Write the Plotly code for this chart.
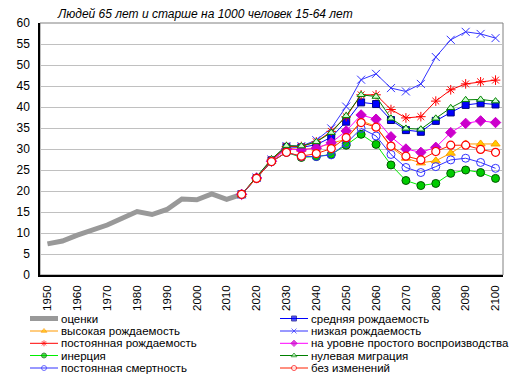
import plotly.graph_objects as go

# ---- data ----
est_years = list(range(1950, 2020, 5))
estimates = [7.4, 8.1, 9.5, 10.7, 11.9, 13.5, 15.1, 14.4, 15.6, 18.1, 17.9, 19.3, 18.0, 19.2]

proj_years = list(range(2015, 2105, 5))
medium       = [19.2, 23.1, 27.3, 30.5, 30.4, 31.0, 32.8, 36.5, 41.1, 40.7, 36.9, 34.5, 34.1, 36.7, 38.7, 40.5, 40.9, 40.6]
high         = [19.2, 23.1, 27.1, 30.2, 29.9, 30.2, 31.4, 32.3, 36.7, 35.4, 30.4, 27.8, 26.7, 27.2, 29.0, 31.2, 31.2, 31.2]
low          = [19.2, 23.2, 27.5, 30.7, 30.7, 32.1, 34.9, 40.1, 46.5, 47.9, 44.5, 43.7, 45.5, 51.9, 56.0, 57.9, 57.4, 56.4]
const_fert   = [19.2, 23.2, 27.4, 30.6, 30.6, 31.7, 34.2, 37.7, 42.9, 42.9, 39.4, 37.4, 37.7, 41.4, 44.1, 45.5, 46.0, 46.4]
replacement  = [19.2, 23.1, 27.1, 30.0, 29.8, 30.2, 31.5, 34.3, 38.1, 37.1, 32.9, 30.0, 29.2, 30.4, 33.9, 36.1, 36.7, 36.3]
inertia      = [19.2, 23.0, 27.0, 29.2, 28.0, 28.2, 28.7, 30.9, 33.5, 31.1, 26.2, 22.5, 21.3, 21.8, 24.2, 25.0, 24.4, 23.0]
zero_migr    = [19.2, 23.3, 27.6, 30.8, 30.7, 31.7, 33.9, 37.9, 42.9, 42.5, 37.3, 34.9, 34.7, 37.3, 39.8, 41.7, 41.8, 41.4]
const_mort   = [19.2, 23.0, 27.0, 29.2, 28.2, 28.2, 28.6, 31.3, 34.9, 33.1, 28.7, 25.6, 24.4, 25.8, 27.4, 27.8, 26.8, 25.4]
no_change    = [19.2, 23.0, 27.0, 29.2, 28.3, 28.9, 30.1, 32.7, 36.3, 35.2, 30.7, 28.3, 27.4, 29.4, 30.9, 30.9, 29.9, 29.2]

x_tick_vals = list(range(1950, 2110, 10))
y_tick_vals = list(range(0, 65, 5))

title_text = "Людей 65 лет и старше на 1000 человек 15-64 лет"

FONT = "Liberation Sans, Arial, sans-serif"

# (name, values, line color, symbol, marker fill, marker line color, marker size, marker line width)
series = [
    ("средняя рождаемость", medium, "#0000FF", "square", "#0000FF", "#000080", 7, 1),
    ("высокая рождаемость", high, "#FF9900", "triangle-up", "#FFCC00", "#FF9900", 8, 1),
    ("низкая рождаемость", low, "#3333FF", "x-thin", "#3333FF", "#3333FF", 8, 1),
    ("постоянная рождаемость", const_fert, "#FF0000", "asterisk", "#FF0000", "#FF0000", 8, 1),
    ("на уровне простого воспроизводства", replacement, "#FF00FF", "diamond", "#CC00CC", "#CC00CC", 8, 1),
    ("инерция", inertia, "#00EE00", "circle", "#00CC00", "#005500", 8, 1),
    ("нулевая миграция", zero_migr, "#008000", "triangle-up", "#CCFFCC", "#008000", 7, 1),
    ("постоянная смертность", const_mort, "#3333FF", "circle-open", "#3333FF", "#3333FF", 8, 1),
    ("без изменений", no_change, "#FF2000", "circle", "#FFFFFF", "#FF0000", 8, 1.2),
]

W, H = 519, 377
OFF = 8  # page body margin offset
PL, PR, PT, PB = 40 - OFF, 503 - OFF, 23 - OFF, 275 - OFF  # plot area in figure pixels

fig = go.Figure()

fig.add_trace(go.Scatter(
    x=est_years, y=estimates, name="оценки", mode="lines",
    line=dict(color="#999999", width=5), showlegend=False))

for name, vals, lc, sym, fc, mlc, ms, mlw in series:
    fig.add_trace(go.Scatter(
        x=proj_years, y=vals, name=name, mode="lines+markers",
        line=dict(color=lc, width=1),
        marker=dict(symbol=sym, size=ms, color=fc, line=dict(color=mlc, width=mlw)),
        showlegend=False))

# ---- custom legend (pixel coordinate overlay axes) ----
legend_items = [("оценки", None)] + [(s[0], s) for s in series]
left_order = [0, 2, 4, 6, 8]
right_order = [1, 3, 5, 7, 9]
row_y = [y - OFF for y in (318.5, 331, 343.3, 355.5, 368)]
annotations = []
for col, order in ((0, left_order), (1, right_order)):
    x0 = (30 if col == 0 else 280) - OFF
    x1 = x0 + 28
    for r, idx in enumerate(order):
        nm, s = legend_items[idx]
        yy = row_y[r]
        if s is None:
            fig.add_trace(go.Scatter(x=[x0, x1], y=[yy, yy], mode="lines",
                                     line=dict(color="#999999", width=5),
                                     xaxis="x2", yaxis="y2", showlegend=False, hoverinfo="skip"))
        else:
            _, _, lc, sym, fc, mlc, ms, mlw = s
            fig.add_trace(go.Scatter(x=[x0, (x0 + x1) / 2, x1], y=[yy, yy, yy], mode="lines+markers",
                                     line=dict(color=lc, width=1),
                                     marker=dict(symbol=sym, size=[0, 5, 0], color=fc,
                                                 line=dict(color=mlc, width=1)),
                                     xaxis="x2", yaxis="y2", showlegend=False, hoverinfo="skip"))
        annotations.append(dict(x=x1 + 1, y=yy, xref="x2", yref="y2", text=nm, showarrow=False,
                                xanchor="left", yanchor="middle",
                                font=dict(family=FONT, size=11.5, color="#000000")))

annotations.append(dict(x=55 - OFF, y=14 - OFF, xref="x2", yref="y2", text="<i>" + title_text + "</i>",
                        showarrow=False, xanchor="left", yanchor="middle",
                        font=dict(family=FONT, size=12, color="#000000")))

fig.update_layout(
    width=W, height=H,
    margin=dict(l=0, r=0, t=0, b=0, pad=0, autoexpand=False),
    paper_bgcolor="white", plot_bgcolor="rgba(0,0,0,0)",
    font=dict(family=FONT, color="#000000"),
    xaxis=dict(domain=[PL / W, PR / W], range=[1947.5, 2102.5],
               tickvals=x_tick_vals, ticktext=[str(v) for v in x_tick_vals],
               tickangle=-90, tickfont=dict(size=11.5, family=FONT),
               showgrid=False, zeroline=False, showline=True, linecolor="#000000", linewidth=1.5,
               ticks="", ticklabelstandoff=4, automargin=False),
    yaxis=dict(domain=[(H - PB) / H, (H - PT) / H], range=[0, 60],
               tickvals=y_tick_vals, tickfont=dict(size=12, family=FONT),
               showgrid=True, gridcolor="#C0C0C0", gridwidth=1, zeroline=False,
               showline=True, linecolor="#000000", linewidth=1.5, ticks="", ticklabelstandoff=6,
               automargin=False),
    xaxis2=dict(domain=[0, 1], range=[0, W], visible=False, fixedrange=True, anchor="y2"),
    yaxis2=dict(domain=[0, 1], range=[H, 0], visible=False, fixedrange=True, anchor="x2"),
    annotations=annotations,
    shapes=[dict(type="rect", xref="x domain", yref="y domain", x0=0, x1=1, y0=0, y1=1,
                 line=dict(color="#808080", width=1), layer="below")],
)

fig.write_html("out.html")
